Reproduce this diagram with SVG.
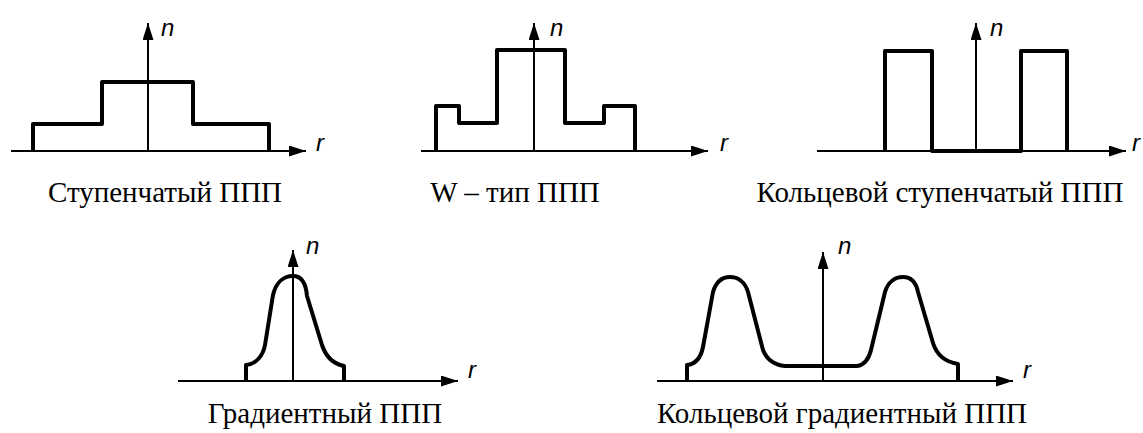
<svg xmlns="http://www.w3.org/2000/svg" width="1143" height="433" viewBox="0 0 1143 433">
<style>
.axis{stroke:#000;stroke-width:2;fill:none}
.prof{stroke:#000;stroke-width:4;fill:none;stroke-linejoin:round;stroke-linecap:butt}
.var{font-family:"Liberation Sans",Arial,sans-serif;font-style:italic;font-size:24px;fill:#000}
.cap{font-family:"Liberation Serif","Times New Roman",serif;font-size:29px;fill:#000;text-anchor:middle}
</style>
<defs>
<marker id="ah" markerWidth="17" markerHeight="11" refX="17" refY="5.5" orient="auto" markerUnits="userSpaceOnUse">
<path d="M0,0 L17,5.5 L0,11 Z" fill="#000"/>
</marker>
</defs>
<rect width="1143" height="433" fill="#fff"/>
<g id="connectors">
<line class="axis" x1="11" y1="151" x2="306" y2="151" marker-end="url(#ah)"/>
<line class="axis" x1="148" y1="151" x2="148" y2="23" marker-end="url(#ah)"/>
<line class="axis" x1="421" y1="151" x2="708" y2="151" marker-end="url(#ah)"/>
<line class="axis" x1="534" y1="151" x2="534" y2="23" marker-end="url(#ah)"/>
<line class="axis" x1="817" y1="151" x2="1126" y2="151" marker-end="url(#ah)"/>
<line class="axis" x1="976" y1="151" x2="976" y2="23" marker-end="url(#ah)"/>
<line class="axis" x1="178" y1="381" x2="458" y2="381" marker-end="url(#ah)"/>
<line class="axis" x1="293" y1="381" x2="293" y2="250" marker-end="url(#ah)"/>
<line class="axis" x1="657" y1="381" x2="1013" y2="381" marker-end="url(#ah)"/>
<line class="axis" x1="823" y1="381" x2="823" y2="252" marker-end="url(#ah)"/>
</g>
<g id="step">
<path class="prof" d="M33,151 V124 H102 V82 H193 V124 H269 V151"/>
<text class="var" x="161" y="36">n</text>
<text class="var" x="316" y="151">r</text>
<text class="cap" x="165" y="202">Ступенчатый ППП</text>
</g>
<g id="wtype">
<path class="prof" d="M436,151 V106 H459 V123 H497 V50 H565 V123 H604 V106 H635 V151"/>
<text class="var" x="550" y="36">n</text>
<text class="var" x="720" y="151">r</text>
<text class="cap" x="515" y="202">W – тип ППП</text>
</g>
<g id="ringstep">
<path class="prof" d="M885,151 V51 H932 V151 H1021 V51 H1067 V151"/>
<text class="var" x="990" y="36">n</text>
<text class="var" x="1132" y="151">r</text>
<text class="cap" x="940" y="202">Кольцевой ступенчатый ППП</text>
</g>
<g id="gradient">
<path class="prof" d="M246,381 V365 C256,364 263,356 265,345 L273,295 C276,282 284,276 293,276 C302,276 306,284 307,296 L322,345 C326,357 334,364 344,366 V381"/>
<text class="var" x="306" y="254">n</text>
<text class="var" x="468" y="378">r</text>
<text class="cap" x="325" y="423">Градиентный ППП</text>
</g>
<g id="ringgradient">
<path class="prof" d="M687,381 V365 C696,364 701,357 703,347 L713,292 C716,282 722,277 730,277 C738,277 745,282 748,292 L763,350 C767,360 775,365 785,366 L857,366 C865,365 869,358 871,350 L885,292 C888,282 895,277 903,277 C911,277 916,282 918,292 L933,343 C937,356 946,362 958,364 V381"/>
<text class="var" x="838" y="254">n</text>
<text class="var" x="1023" y="378">r</text>
<text class="cap" x="842" y="423">Кольцевой градиентный ППП</text>
</g>
</svg>
